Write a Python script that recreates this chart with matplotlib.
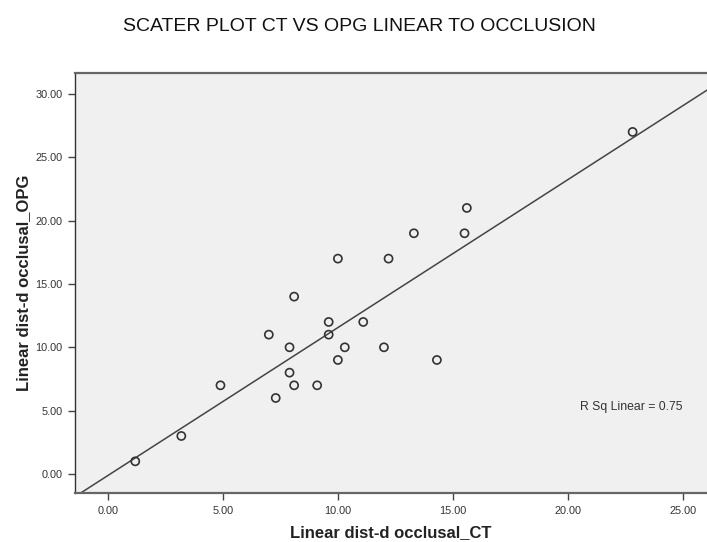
import numpy as np
import matplotlib
matplotlib.use('Agg')
import matplotlib.pyplot as plt

# Linear distance to occlusion, CT vs OPG
ct = [1.2, 3.2, 4.9, 7.0, 7.3, 7.9, 7.9, 8.1, 8.1, 9.1, 9.6, 9.6,
      10.0, 10.0, 10.3, 11.1, 12.0, 12.2, 13.3, 14.3, 15.5, 15.6, 22.8]
opg = [1, 3, 7, 11, 6, 10, 8, 7, 14, 7, 12, 11,
       9, 17, 10, 12, 10, 17, 19, 9, 19, 21, 27]
x_ticks = [0, 5, 10, 15, 20, 25]
y_ticks = [0, 5, 10, 15, 20, 25, 30]

plt.rcParams['font.family'] = ['Liberation Sans', 'DejaVu Sans']

fig = plt.figure(figsize=(7.07, 5.42), dpi=100)
ax = fig.add_axes([0.106, 0.0904, 0.894, 0.7749])
ax.set_facecolor('#f0f0f0')

ax.scatter(ct, opg, s=34, facecolors='none', edgecolors='#333333', linewidths=1.2, zorder=3)

# least squares fit line across the whole axis
xlim = (-1.42, 26.03)
slope, intercept = np.polyfit(ct, opg, 1)
xs = np.array(xlim)
ax.plot(xs, slope * xs + intercept, color='#444444', linewidth=1.1, zorder=2)

ax.set_xlim(*xlim)
ax.set_ylim(-1.5, 31.65)
ax.set_xticks(x_ticks)
ax.set_yticks(y_ticks)
ax.set_xticklabels(['%.2f' % v for v in x_ticks], fontsize=7.8, color='#333333')
ax.set_yticklabels(['%.2f' % v for v in y_ticks], fontsize=7.8, color='#333333')
ax.tick_params(direction='out', length=5, width=1, color='#444444', pad=4)

for side in ['top', 'bottom']:
    ax.spines[side].set_linewidth(1.6)
    ax.spines[side].set_color('#666666')
ax.spines['left'].set_color('#333333')
ax.spines['left'].set_linewidth(1.0)
ax.spines['right'].set_visible(False)

ax.set_xlabel('Linear dist-d occlusal_CT', fontsize=12, fontweight='bold', color='#222222', labelpad=7)
ax.set_ylabel('Linear dist-d occlusal_OPG', fontsize=12, fontweight='bold', color='#222222', labelpad=3)

ax.text(20.5, 5.3, 'R Sq Linear = 0.75', fontsize=8.8, color='#333333', va='center', ha='left')

fig.text(0.508, 0.952, 'SCATER PLOT CT VS OPG LINEAR TO OCCLUSION',
         fontsize=14, ha='center', va='center', color='#111111')

fig.savefig('out.png', dpi=100)
